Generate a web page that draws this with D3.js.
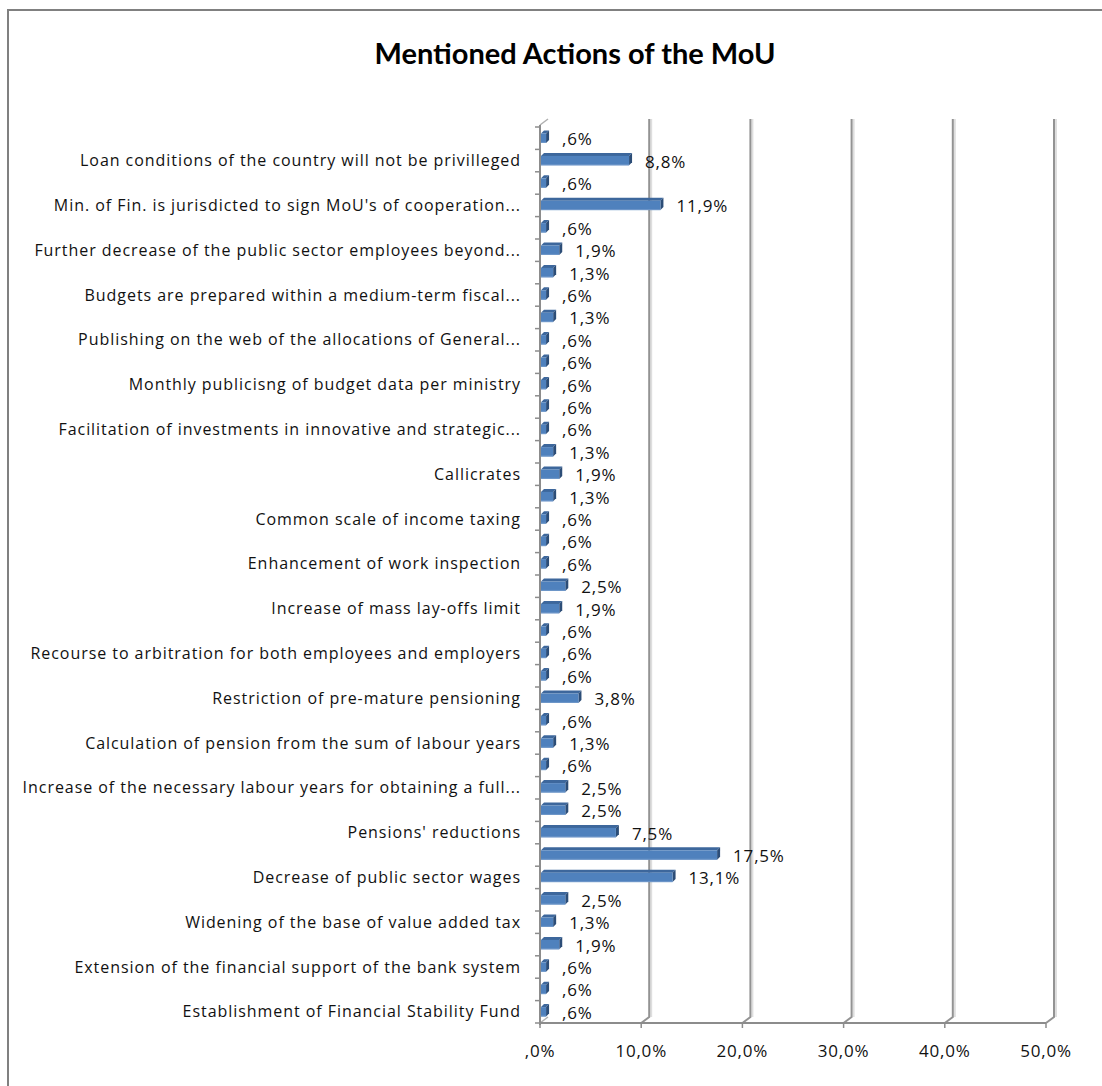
<!DOCTYPE html>
<meta charset="utf-8">
<style>
  body { margin: 0; background: #fff; }
  text { font-family: "Open Sans", Lato, sans-serif; fill: #111; }
</style>
<svg width="1102" height="1086"></svg>
<script src="https://d3js.org/d3.v7.min.js"></script>
<script>

// categories top to bottom; "" = label skipped by the axis
var labels = [
  "", "Loan conditions of the country will not be privilleged",
  "", "Min. of Fin. is jurisdicted to sign MoU's of cooperation...",
  "", "Further decrease of the public sector employees beyond...",
  "", "Budgets are prepared within a medium-term fiscal...",
  "", "Publishing on the web of the allocations of General...",
  "", "Monthly publicisng of budget data per ministry",
  "", "Facilitation of investments in innovative and strategic...",
  "", "Callicrates",
  "", "Common scale of income taxing",
  "", "Enhancement of work inspection",
  "", "Increase of mass lay-offs limit",
  "", "Recourse to arbitration for both employees and employers",
  "", "Restriction of pre-mature pensioning",
  "", "Calculation of pension from the sum of labour years",
  "", "Increase of the necessary labour years for obtaining a full...",
  "", "Pensions' reductions",
  "", "Decrease of public sector wages",
  "", "Widening of the base of value added tax",
  "", "Extension of the financial support of the bank system",
  "", "Establishment of Financial Stability Fund"
];

var values = [
  0.6, 8.8, 0.6, 11.9, 0.6, 1.9, 1.3, 0.6, 1.3, 0.6,
  0.6, 0.6, 0.6, 0.6, 1.3, 1.9, 1.3, 0.6, 0.6, 0.6,
  2.5, 1.9, 0.6, 0.6, 0.6, 3.8, 0.6, 1.3, 0.6, 2.5,
  2.5, 7.5, 17.5, 13.1, 2.5, 1.3, 1.9, 0.6, 0.6, 0.6
];

var xTicks = [0, 10, 20, 30, 40, 50];

var svg = d3.select("svg");

// comma decimal, no leading zero (",6%")
function fmt(v, digits) {
  var s = v.toFixed(digits).replace(".", ",");
  if (s.indexOf("0,") === 0) s = s.slice(1);
  return s + "%";
}

// chart border
svg.append("path")
  .attr("d", "M8,1090 V10 H1110")
  .attr("fill", "none")
  .attr("stroke", "#808080")
  .attr("stroke-width", 2);

svg.append("text")
  .attr("x", 575)
  .attr("y", 64)
  .attr("text-anchor", "middle")
  .style("font-family", "Lato, sans-serif")
  .style("font-size", "29px")
  .style("font-weight", "bold")
  .style("fill", "#000")
  .text("Mentioned Actions of the MoU");

var x = d3.scaleLinear().domain([0, 50]).range([540, 1046]);
var y = d3.scaleBand().domain(d3.range(values.length)).range([127, 1023]).paddingInner(0.58).paddingOuter(0.29);
var step = y.step();
var yTop = 127, yBottom = 1023;
var dx = 8, dy = -6;

// back wall gridlines
var grid = svg.append("g");
xTicks.slice(1).forEach(function(t) {
  grid.append("line")
    .attr("x1", x(t) + dx + 2).attr("x2", x(t) + dx + 2)
    .attr("y1", yTop + dy - 2).attr("y2", yBottom + dy)
    .attr("stroke", "#dedede").attr("stroke-width", 2);
  grid.append("path")
    .attr("d", "M" + (x(t) + dx) + "," + (yTop + dy - 2) + "V" + (yBottom + dy) + "L" + x(t) + "," + yBottom)
    .attr("fill", "none").attr("stroke", "#939393").attr("stroke-width", 2);
});

// left wall outline
svg.append("path")
  .attr("d", "M" + x(0) + "," + (yTop - 2) + "L" + (x(0) + dx) + "," + (yTop + dy - 2) +
        "M" + (x(0) + dx) + "," + (yBottom + dy) + "L" + x(0) + "," + yBottom)
  .attr("fill", "none").attr("stroke", "#b0b0b0").attr("stroke-width", 1.5);

// bars
var bars = svg.append("g").selectAll("g").data(values).join("g");
bars.each(function(v, i) {
  var g = d3.select(this);
  var x0 = x(0) + 1, x1 = x(v), y0 = y(i), h = y.bandwidth();
  var bx = 3, by = -3;
  // top face
  g.append("path")
    .attr("d", "M" + x0 + "," + y0 + "L" + (x0 + bx) + "," + (y0 + by) + "L" + (x1 + bx) + "," + (y0 + by) + "L" + x1 + "," + y0 + "Z")
    .attr("fill", "#3d679c");
  // end face
  g.append("path")
    .attr("d", "M" + x1 + "," + y0 + "L" + (x1 + bx) + "," + (y0 + by) + "L" + (x1 + bx) + "," + (y0 + h + by) + "L" + x1 + "," + (y0 + h) + "Z")
    .attr("fill", "#2c4d77");
  // front face
  g.append("rect")
    .attr("x", x0).attr("y", y0)
    .attr("width", Math.max(0, x1 - x0)).attr("height", h)
    .attr("fill", "#4f81bd");
  g.append("line")
    .attr("x1", x0).attr("x2", x1)
    .attr("y1", y0 + h - 0.5).attr("y2", y0 + h - 0.5)
    .attr("stroke", "#6f97c9").attr("stroke-width", 1);
});

// value labels
svg.append("g").selectAll("text").data(values).join("text")
  .attr("x", function(d) { return x(d) + 16; })
  .attr("y", function(d, i) { return y(i) + y.bandwidth() / 2 + 1; })
  .attr("dy", "0.35em")
  .style("font-size", "17px")
  .style("letter-spacing", "0.8px")
  .text(function(d) { return fmt(d, 1); });

// y axis (front left edge)
var yAxis = svg.append("g");
yAxis.append("line")
  .attr("x1", x(0)).attr("x2", x(0))
  .attr("y1", yTop - 2).attr("y2", yBottom + 2)
  .attr("stroke", "#8c8c8c").attr("stroke-width", 2);
d3.range(values.length + 1).forEach(function(i) {
  var yy = yTop + i * step;
  yAxis.append("line")
    .attr("x1", x(0) - 5).attr("x2", x(0))
    .attr("y1", yy).attr("y2", yy)
    .attr("stroke", "#8c8c8c").attr("stroke-width", 1.5);
});
yAxis.selectAll("text").data(labels).join("text")
  .attr("x", 521)
  .attr("y", function(d, i) { return y(i) + y.bandwidth() / 2; })
  .attr("dy", "0.35em")
  .attr("text-anchor", "end")
  .style("font-size", "16px")
  .style("letter-spacing", "0.95px")
  .text(function(d) { return d; });

// x axis
var xAxis = svg.append("g");
xAxis.append("line")
  .attr("x1", x(0)).attr("x2", x(50))
  .attr("y1", yBottom).attr("y2", yBottom)
  .attr("stroke", "#8c8c8c").attr("stroke-width", 2);
xTicks.forEach(function(t) {
  xAxis.append("line")
    .attr("x1", x(t)).attr("x2", x(t))
    .attr("y1", yBottom).attr("y2", yBottom + 5)
    .attr("stroke", "#8c8c8c").attr("stroke-width", 1.5);
  xAxis.append("text")
    .attr("x", x(t))
    .attr("y", 1057)
    .attr("text-anchor", "middle")
    .style("font-size", "17px")
    .style("letter-spacing", "0.8px")
    .text(fmt(t, 1));
});
</script>
